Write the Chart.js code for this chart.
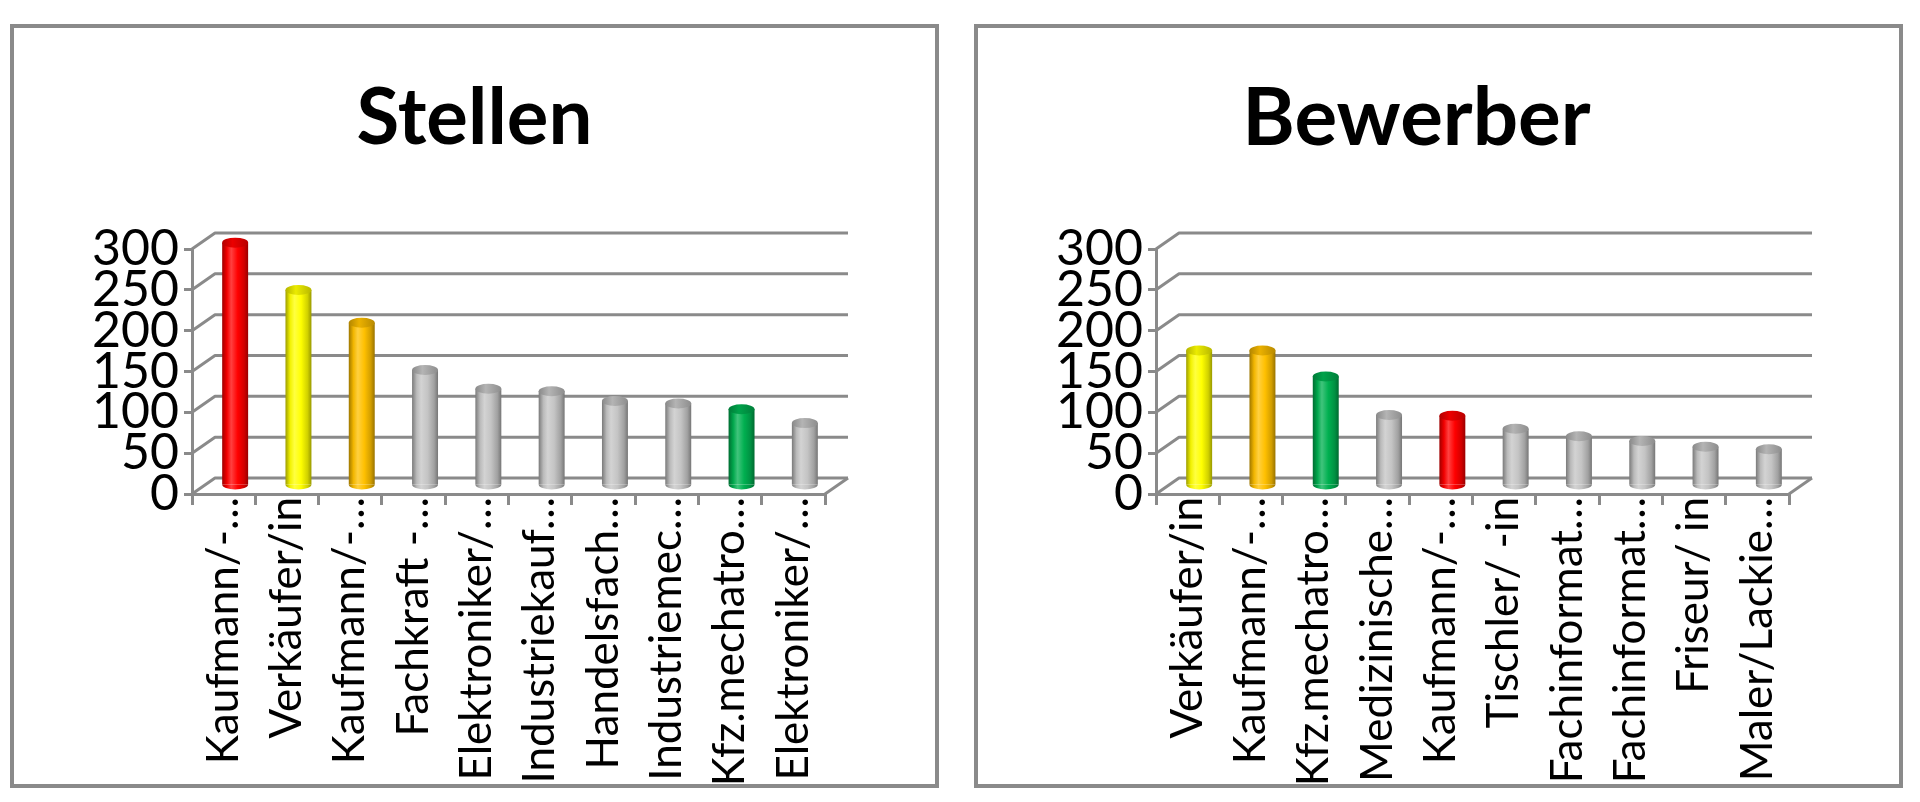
<!DOCTYPE html>
<html><head><meta charset="utf-8">
<script src="https://cdn.jsdelivr.net/npm/chart.js@4.4.1/dist/chart.umd.min.js"></script>
<style>
html,body{margin:0;padding:0;background:#fff;width:1920px;height:802px;overflow:hidden}
.panel{position:absolute;top:24px;width:921px;height:756px;border:4px solid #8a8a8a;background:#fff}
#p1{left:10px}
#p2{left:974px}
canvas{display:block}
</style></head><body>
<div class="panel" id="p1"><canvas id="c1" width="921" height="756"></canvas></div>
<div class="panel" id="p2"><canvas id="c2" width="921" height="756"></canvas></div>
<script>
// ---- data ----
const stellenTitle = "Stellen";
const stellenLabels = ["Kaufmann/-…","Verkäufer/in","Kaufmann/-…","Fachkraft -…","Elektroniker/…","Industriekauf…","Handelsfach…","Industriemec…","Kfz.mechatro…","Elektroniker/…"];
const stellenValues = [298, 240, 200, 142, 119, 116, 104, 101, 94, 77];
const stellenColors = ["#ff0000","#ffff00","#ffc000","#c4c4c4","#c4c4c4","#c4c4c4","#c4c4c4","#c4c4c4","#00b050","#c4c4c4"];

const bewerberTitle = "Bewerber";
const bewerberLabels = ["Verkäufer/in","Kaufmann/-…","Kfz.mechatro…","Medizinische…","Kaufmann/-…","Tischler/ -in","Fachinformat…","Fachinformat…","Friseur/ in","Maler/Lackie…"];
const bewerberValues = [166, 166, 134, 87, 86, 70, 61, 55, 48, 45];
const bewerberColors = ["#ffff00","#ffc000","#00b050","#c4c4c4","#ff0000","#c4c4c4","#c4c4c4","#c4c4c4","#c4c4c4","#c4c4c4"];

const yTicks = [0, 50, 100, 150, 200, 250, 300];

// ---- 3D look ----
const DX = 23, DY = -16;
const GRID = '#8a8a8a';

function hexToRgb(h){const n=parseInt(h.slice(1),16);return [(n>>16)&255,(n>>8)&255,n&255];}
function mix(hex, f){ // f<1 darker, f>1 lighter
  const c = hexToRgb(hex).map(v => f <= 1 ? v*f : v + (255-v)*(f-1));
  return 'rgb(' + c.map(v=>Math.round(Math.max(0,Math.min(255,v)))).join(',') + ')';
}
function cylGradient(ctx, cx, w, col){
  const g = ctx.createLinearGradient(cx - w/2, 0, cx + w/2, 0);
  g.addColorStop(0, mix(col, 0.62));
  g.addColorStop(0.18, mix(col, 0.95));
  g.addColorStop(0.35, mix(col, 1.25));
  g.addColorStop(0.6, mix(col, 1.0));
  g.addColorStop(0.85, mix(col, 0.82));
  g.addColorStop(1, mix(col, 0.6));
  return g;
}
function barWidth(chart){
  const xs = chart.scales.x;
  return (xs.width / chart.data.labels.length) * 0.41;
}

const wallPlugin = {
  id: 'walls',
  beforeDatasetsDraw(chart){
    const {ctx, chartArea:a, scales:{y}} = chart;
    ctx.save();
    ctx.strokeStyle = GRID; ctx.lineWidth = 3; ctx.lineJoin = 'round';
    yTicks.forEach(v => {
      const py = y.getPixelForValue(v);
      ctx.beginPath();
      ctx.moveTo(a.left, py);
      ctx.lineTo(a.left + DX, py + DY);
      ctx.lineTo(a.right + DX, py + DY);
      ctx.stroke();
    });
    const p0 = y.getPixelForValue(0);
    ctx.beginPath();
    ctx.moveTo(a.right, p0);
    ctx.lineTo(a.right + DX, p0 + DY);
    ctx.stroke();
    ctx.restore();
    ctx.save();
    ctx.translate(DX/2, DY/2);
  },
  afterDatasetsDraw(chart){
    const ctx = chart.ctx;
    const meta = chart.getDatasetMeta(0);
    const cols = chart.data.datasets[0].colors;
    meta.data.forEach((el, i) => {
      const p = el.getProps(['x','y','width','base'], true);
      const rx = p.width/2, ry = 5;
      const col = cols[i];
      ctx.beginPath();
      ctx.ellipse(p.x, p.base, rx, ry, 0, 0, Math.PI);
      ctx.fillStyle = cylGradient(ctx, p.x, p.width, col);
      ctx.fill();
      ctx.beginPath();
      ctx.ellipse(p.x, p.y, rx, ry, 0, 0, Math.PI*2);
      const g = ctx.createLinearGradient(p.x - rx, 0, p.x + rx, 0);
      g.addColorStop(0, mix(col, 0.7));
      g.addColorStop(0.4, mix(col, 0.92));
      g.addColorStop(1, mix(col, 0.72));
      ctx.fillStyle = g;
      ctx.fill();
    });
    ctx.restore();
  }
};

function makeChart(id, title, labels, values, colors, titleSize, titleShift){
  return new Chart(document.getElementById(id), {
    type: 'bar',
    data: {
      labels: labels,
      datasets: [{
        data: values,
        colors: colors,
        backgroundColor: (c) => {
          const chart = c.chart;
          const xs = chart.scales.x;
          const col = colors[c.dataIndex] || '#c4c4c4';
          if (!xs || !xs.width) return col;
          const cx = xs.getPixelForValue(c.dataIndex);
          return cylGradient(chart.ctx, cx, barWidth(chart), col);
        },
        borderWidth: 0,
        barPercentage: 0.41,
        categoryPercentage: 1,
        clip: false,
        yAxisID: 'y'
      }]
    },
    options: {
      responsive: false,
      animation: false,
      devicePixelRatio: 1,
      layout: { padding: { left: 0, top: 0, bottom: 0, right: titleShift } },
      plugins: {
        legend: { display: false },
        tooltip: { enabled: false },
        title: {
          display: true, text: title, color: '#000',
          font: { family: 'Lato', weight: 'bold', size: titleSize, lineHeight: 1.2 },
          padding: { top: 44 + (78 - titleSize) * 0.6, bottom: 83.4 + (78 - titleSize) * 0.6 }
        }
      },
      scales: {
        x: {
          grid: { display: true, drawOnChartArea: false, drawTicks: true, tickLength: 11, color: GRID, lineWidth: 3, offset: true },
          border: { display: true, color: GRID, width: 3 },
          ticks: { autoSkip: false, maxRotation: 90, minRotation: 90, color: '#000', font: { family: 'Lato', size: 44 }, padding: -8 },
          afterFit: (s) => { s.height = 290; }
        },
        y: {
          min: 0, max: 300,
          afterBuildTicks: (s) => { s.ticks = yTicks.map(v => ({ value: v })); },
          ticks: { autoSkip: false, color: '#000', font: { family: 'Lato', size: 50 }, padding: 5 },
          grid: { drawOnChartArea: false, drawTicks: true, tickLength: 8, color: GRID, lineWidth: 3 },
          border: { display: true, color: GRID, width: 3 },
          afterFit: (s) => { s.width = 178; }
        },
        spacer: {
          type: 'linear', position: 'right', display: true,
          grid: { display: false }, border: { display: false }, ticks: { display: false },
          afterFit: (s) => { s.width = 110 - titleShift; }
        }
      }
    },
    plugins: [wallPlugin]
  });
}

makeChart('c1', stellenTitle, stellenLabels, stellenValues, stellenColors, 78, 0);
makeChart('c2', bewerberTitle, bewerberLabels, bewerberValues, bewerberColors, 80, 44);
</script>
</body></html>
